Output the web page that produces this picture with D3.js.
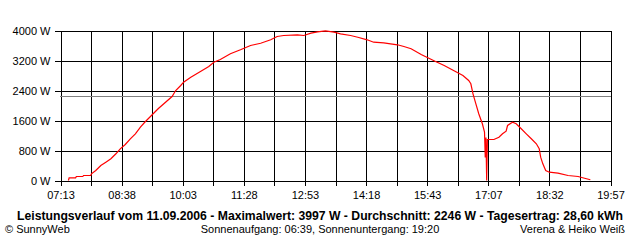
<!DOCTYPE html>
<html>
<head>
<meta charset="utf-8">
<script src="https://cdn.jsdelivr.net/npm/d3@7"></script>
<style>
  body { margin: 0; background: #fff; }
  svg text { font-family: "Liberation Sans", Arial, sans-serif; fill: #000; }
</style>
</head>
<body>
<script>
// readings of the day (time of day, watts)
var times = ["07:24","07:25","07:34","07:35","07:44","07:45","07:55","07:56","08:02","08:09",
  "08:16","08:23","08:30","08:36","08:43","08:50","08:57","09:04","09:11","09:29",
  "09:48","09:53","10:00","10:04","10:14","10:28","10:39","10:46","10:55","11:09",
  "11:23","11:37","11:51","12:05","12:14","12:23","12:42","12:51","13:01","13:10",
  "13:21","13:33","13:42","13:56","14:06","14:19","14:28","14:42","15:01","15:10",
  "15:20","15:34","15:54","16:06","16:19","16:32","16:40","16:43","16:46","16:50",
  "16:54","16:59","17:02","17:03","17:04","17:05","17:06","17:15","17:22","17:27",
  "17:32","17:34","17:41","17:46","17:53","18:00","18:07","18:14","18:18","18:20",
  "18:23","18:27","18:32","18:44","18:58","19:12","19:21","19:29"];
var watts = [0,72,72,107,107,133,133,179,267,400,
  488,579,712,845,960,1112,1245,1421,1573,1920,
  2240,2400,2533,2621,2755,2915,3040,3155,3227,3379,
  3485,3600,3661,3752,3840,3867,3885,3867,3928,3965,
  3990,3955,3912,3867,3821,3752,3688,3672,3619,3573,
  3512,3360,3173,3067,2933,2800,2667,2579,2312,2045,
  1779,1512,1288,613,1147,0,1093,1093,1155,1245,
  1315,1467,1555,1512,1379,1245,1112,979,845,621,
  445,267,221,195,133,107,61,19];

var average = 2246;
var xTickLabels = ["07:13","08:38","10:03","11:28","12:53","14:18","15:43","17:07","18:32","19:57"];
var yTicks = [0, 800, 1600, 2400, 3200, 4000];

var title = "Leistungsverlauf vom 11.09.2006 - Maximalwert: 3997 W - Durchschnitt: 2246 W - Tagesertrag: 28,60 kWh";
var footLeft = "\u00a9 SunnyWeb";
var footMid = "Sonnenaufgang: 06:39, Sonnenuntergang: 19:20";
var footRight = "Verena & Heiko Wei\u00df";

function toMin(s) { var p = s.split(":"); return +p[0] * 60 + +p[1]; }

var W = 640, H = 240;
var svg = d3.select("body").append("svg")
    .attr("width", W).attr("height", H);

var t0 = toMin(xTickLabels[0]), t1 = toMin(xTickLabels[xTickLabels.length - 1]);
var x = d3.scaleLinear().domain([t0, t1]).range([60, 610]);
var y = d3.scaleLinear().domain([0, 4000]).range([180, 30]);

// grid ticks: 18 steps, labels on every second one
var xTickVals = d3.range(19).map(function(i) { return t0 + (t1 - t0) * i / 18; });

var gx = svg.append("g")
    .attr("transform", "translate(0.5,185.5)")
    .call(d3.axisBottom(x).tickValues(xTickVals).tickSize(-155).tickPadding(8)
      .tickFormat(function(d, i) { return i % 2 == 0 ? xTickLabels[i / 2] : ""; }));
gx.select(".domain").remove();
gx.selectAll("line").attr("stroke", "#000").attr("shape-rendering", "crispEdges");
gx.selectAll("text").attr("font-size", "11px").attr("dy", "0.5em");

var gy = svg.append("g")
    .attr("transform", "translate(54.5,0.5)")
    .call(d3.axisLeft(y).tickValues(yTicks).tickSize(-556).tickPadding(4)
      .tickFormat(function(d) { return d + " W"; }));
gy.select(".domain").remove();
gy.selectAll("line").attr("stroke", "#000").attr("shape-rendering", "crispEdges");
gy.selectAll("text").attr("font-size", "11px");

// average line
svg.append("line")
    .attr("x1", x(t0)).attr("x2", x(t1) + 1)
    .attr("y1", Math.round(y(average)) + 0.5).attr("y2", Math.round(y(average)) + 0.5)
    .attr("stroke", "#808080").attr("shape-rendering", "crispEdges");

// power curve
var line = d3.line()
    .x(function(d, i) { return x(toMin(times[i])); })
    .y(function(d) { return y(d); });

svg.append("path")
    .datum(watts)
    .attr("d", line)
    .attr("fill", "none")
    .attr("stroke", "#ff0000")
    .attr("stroke-width", 1.2)
    .attr("transform", "translate(0.5,0.5)");

// texts
svg.append("text")
    .attr("x", 320).attr("y", 220)
    .attr("text-anchor", "middle")
    .attr("font-size", "12px").attr("font-weight", "bold")
    .attr("textLength", 606).attr("lengthAdjust", "spacingAndGlyphs")
    .text(title);

svg.append("text").attr("x", 5).attr("y", 233).attr("font-size", "11px").text(footLeft);
svg.append("text").attr("x", 320).attr("y", 233).attr("text-anchor", "middle")
    .attr("font-size", "11px").text(footMid);
svg.append("text").attr("x", 625).attr("y", 233).attr("text-anchor", "end")
    .attr("font-size", "11px").text(footRight);
</script>
</body>
</html>
